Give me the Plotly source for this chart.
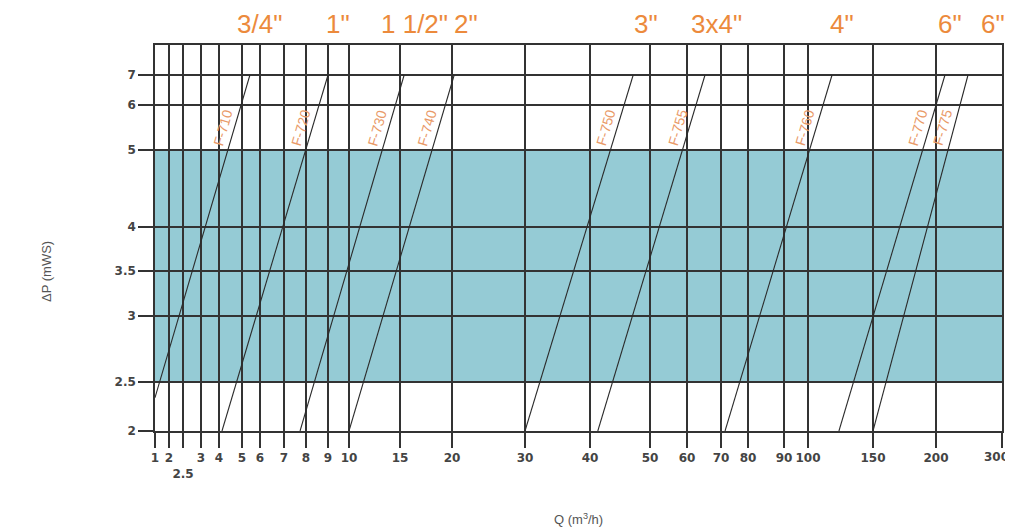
import numpy as np
import plotly.graph_objects as go

# ---- nomogram scales (the chart's own non-uniform axes) ----
Q_TICKS = [1, 2, 2.5, 3, 4, 5, 6, 7, 8, 9, 10, 15, 20, 30, 40, 50, 60, 70, 80, 90, 100, 150, 200, 300]
Q_TICK_TEXT = ["1", "2", "<br>2.5", "3", "4", "5", "6", "7", "8", "9", "10", "15", "20", "30", "40",
               "50", "60", "70", "80", "90", "100", "150", "200", "300"]
Q_SCALE = [0, 14, 28, 46, 64, 87, 105, 129, 151, 173, 194, 245, 297, 370, 435, 495, 532, 566, 593, 629, 653, 718, 781, 847]
DP_TICKS = [2, 2.5, 3, 3.5, 4, 5, 6, 7]
DP_TICK_TEXT = ["2", "2.5", "3", "3.5", "4", "5", "6", "7"]
DP_SCALE = [0, 49, 115, 160, 204, 281, 326, 356]
DP_TOP = 8
DP_TOP_SCALE = 386

# ---- data ----
MODELS = ["F-710", "F-720", "F-730", "F-740", "F-750", "F-755", "F-760", "F-770", "F-775"]
PIPE_SIZES = ['3/4"', '1"', '1 1/2"', '2"', '3"', '3x4"', '4"', '6"', '6"']
Q_LOW = [1.0, 4.13, 7.73, 10.0, 30.0, 41.3, 71.5, 123.8, 150.0]
DP_LOW = [2.34, 2.0, 2.0, 2.0, 2.0, 2.0, 2.0, 2.0, 2.0]
Q_HIGH = [5.44, 9.0, 15.4, 20.3, 47.2, 65.3, 118.5, 213.6, 248.5]
DP_HIGH = [7.0, 7.0, 7.0, 7.0, 7.0, 7.0, 7.0, 7.0, 7.0]
BAND_DP = [2.5, 5.0]
MODEL_LABEL_DP = 5.5

# ---- styles ----
SIZE_LABEL_XSHIFT = [10, 10, 10, 12, 13, 11, 10, 5, 25]
GRID = "#333333"
ORANGE = "#ec8a3c"
LABEL_ORANGE = "#e99a68"
BAND_COLOR = "#95cbd5"


def qx(q):
    return np.interp(q, Q_TICKS, Q_SCALE)


def dpy(p):
    return np.interp(p, DP_TICKS + [DP_TOP], DP_SCALE + [DP_TOP_SCALE])


fig = go.Figure()

fig.add_shape(type="rect", xref="paper", x0=0, x1=1, yref="y",
              y0=dpy(BAND_DP[0]), y1=dpy(BAND_DP[1]),
              fillcolor=BAND_COLOR, line_width=0, layer="below")

for i, m in enumerate(MODELS):
    xb, xt = qx(Q_LOW[i]), qx(Q_HIGH[i])
    yb, yt = dpy(DP_LOW[i]), dpy(DP_HIGH[i])
    fig.add_trace(go.Scatter(x=[xb, xt], y=[yb, yt], mode="lines",
                             line=dict(color="#2b2b2b", width=1.1),
                             name=m, showlegend=False, hoverinfo="name"))
    yl = dpy(MODEL_LABEL_DP)
    f = (yl - yb) / (yt - yb)
    xl = xb + f * (xt - xb)
    fig.add_annotation(x=xl, y=yl, text=m, showarrow=False, textangle=-74,
                       xshift=-12,
                       font=dict(family="Liberation Sans, Arial, sans-serif",
                                 size=14, color=LABEL_ORANGE))
    fig.add_annotation(x=xt, y=1, yref="paper", xanchor="center", yanchor="middle",
                       text=PIPE_SIZES[i], showarrow=False,
                       xshift=SIZE_LABEL_XSHIFT[i], yshift=21,
                       font=dict(family="Liberation Sans, Arial, sans-serif",
                                 size=26, color=ORANGE))

fig.add_annotation(x=(46 - 155) / 847, y=(431 - 272) / 386, xref="paper", yref="paper",
                   xanchor="center", yanchor="middle",
                   text="ΔP (mWS)", textangle=-90, showarrow=False,
                   font=dict(family="Liberation Sans, Arial, sans-serif", size=13, color="#555555"))
fig.add_annotation(x=(578 - 155) / 847, y=(431 - 519) / 386, xref="paper", yref="paper",
                   xanchor="center", yanchor="middle",
                   text="Q (m<sup>3</sup>/h)", showarrow=False,
                   font=dict(family="Liberation Sans, Arial, sans-serif", size=13, color="#555555"))

tick_font = dict(family="DejaVu Sans, sans-serif", size=12, color="#444444", weight="bold")

# last tick label sits at the right edge of the page: draw it as an annotation nudged inward
last_val = Q_TICKS[-1]
fig.add_annotation(x=qx(last_val), y=0, yref="paper", yanchor="top", xanchor="center",
                   text=Q_TICK_TEXT[-1], showarrow=False, xshift=-6, yshift=-17,
                   font=tick_font)
axis_tick_text = Q_TICK_TEXT[:-1] + [""]

fig.update_xaxes(type="linear", range=[0, Q_SCALE[-1]], tickmode="array",
                 tickvals=[qx(v) for v in Q_TICKS], ticktext=axis_tick_text, tickangle=0,
                 automargin=False, ticklabeloverflow="allow",
                 showgrid=True, gridcolor=GRID, gridwidth=1.5,
                 showline=True, linecolor=GRID, linewidth=1.5, mirror=True,
                 ticks="outside", ticklen=15, tickcolor=GRID, tickwidth=1.5,
                 tickfont=tick_font, zeroline=False, fixedrange=True)
fig.update_yaxes(type="linear", range=[0, DP_TOP_SCALE], tickmode="array",
                 tickvals=[dpy(v) for v in DP_TICKS], ticktext=DP_TICK_TEXT,
                 automargin=False, ticklabeloverflow="allow",
                 showgrid=True, gridcolor=GRID, gridwidth=1.5,
                 showline=True, linecolor=GRID, linewidth=1.5, mirror=True,
                 ticks="outside", ticklen=15, tickcolor=GRID, tickwidth=1.5,
                 tickfont=tick_font, zeroline=False, fixedrange=True)

# the page body adds an 8px offset, so the figure is sized 8px smaller
fig.update_layout(width=1005, height=522,
                  margin=dict(l=147, r=11, t=37, b=99, pad=0),
                  paper_bgcolor="white", plot_bgcolor="white",
                  showlegend=False)

fig.write_html("out.html")
